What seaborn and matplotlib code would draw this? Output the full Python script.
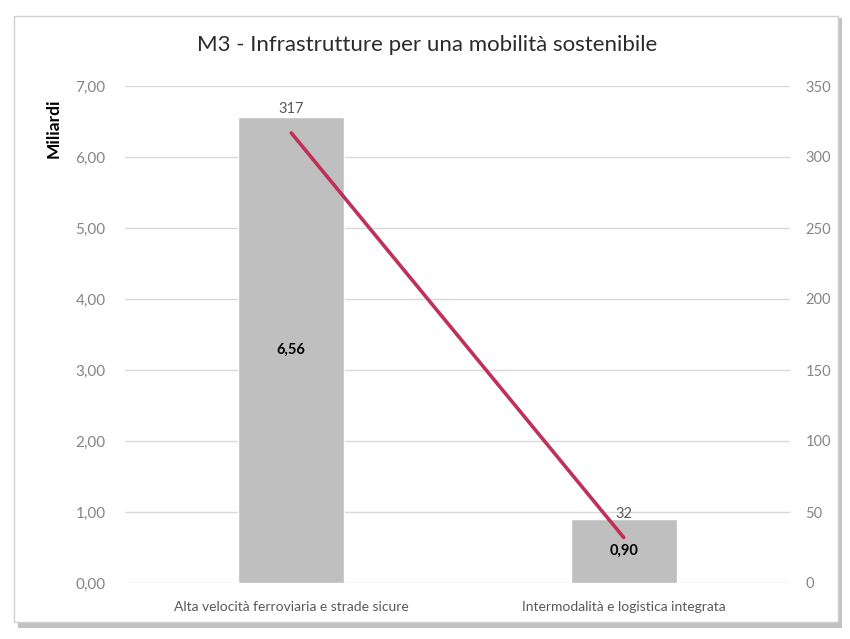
import matplotlib
matplotlib.use("Agg")
import matplotlib.pyplot as plt
import seaborn as sns
import pandas as pd
from matplotlib.patches import Rectangle

categories = ["Alta velocità ferroviaria e strade sicure", "Intermodalità e logistica integrata"]
miliardi = [6.56, 0.90]
counts = [317, 32]
left_ticks = [0, 1, 2, 3, 4, 5, 6, 7]
right_ticks = [0, 50, 100, 150, 200, 250, 300, 350]

sns.set_theme(style="white")
plt.rcParams['font.family'] = ['Lato', 'DejaVu Sans']

df = pd.DataFrame({"cat": categories, "val": miliardi, "cnt": counts})

fig = plt.figure(figsize=(8.5, 6.39), dpi=100)
fig.patch.set_facecolor("white")

# frame with shadow
shadow = Rectangle((18 / 850, 1 - 628 / 639), 824 / 850, 610 / 639, transform=fig.transFigure,
                   facecolor="#9a9a9a", edgecolor="none", zorder=-3, alpha=0.6)
frame = Rectangle((14 / 850, 1 - 622 / 639), 824 / 850, 606 / 639, transform=fig.transFigure,
                  facecolor="white", edgecolor="#d0d0d0", linewidth=1.0, zorder=-2)
fig.patches.extend([shadow, frame])

ax = fig.add_axes([125 / 850, 1 - 583 / 639, 665 / 850, 497 / 639])
ax.set_facecolor("none")
sns.barplot(data=df, x="cat", y="val", ax=ax, color="#BFBFBF", width=0.32, saturation=1, zorder=2)
ax.set_ylim(0, 7)
ax.set_xlim(-0.5, 1.5)
ax.set_yticks(left_ticks)
ax.set_yticklabels([f"{t:.2f}".replace(".", ",") for t in left_ticks], color="#858585", fontsize=11)
ax.grid(axis="y", color="#D9D9D9", linewidth=1, zorder=0)
ax.set_axisbelow(True)
for s in ax.spines.values():
    s.set_visible(False)
ax.tick_params(axis="both", length=0)
ax.tick_params(axis="y", pad=14)
ax.tick_params(axis="x", pad=13)
ax.set_xticks(range(len(categories)))
ax.set_xticklabels(categories, color="#595959", fontsize=10)
ax.set_xlabel("")
ax.set_ylabel("Miliardi", fontsize=12.5, fontweight="bold", color="black")
ax.yaxis.set_label_coords(-0.095, 0.915)

for i, v in enumerate(miliardi):
    ax.text(i, v / 2, f"{v:.2f}".replace(".", ","), ha="center", va="center",
            fontsize=10.5, fontweight="bold", color="black", zorder=5)

ax2 = ax.twinx()
sns.lineplot(data=df, x="cat", y="cnt", ax=ax2, color="#BE3259", linewidth=2.6, zorder=4)
ax2.set_ylim(0, 350)
ax2.set_xlim(-0.5, 1.5)
ax2.set_yticks(right_ticks)
ax2.set_yticklabels([str(t) for t in right_ticks], color="#858585", fontsize=10.5)
ax2.tick_params(axis="y", length=0, pad=11)
ax2.set_ylabel("")
for s in ax2.spines.values():
    s.set_visible(False)
ax2.grid(False)
for i, c in enumerate(counts):
    ax2.text(i, c + 12, str(c), ha="center", va="bottom", fontsize=10.5, color="#595959", zorder=6)

fig.text(0.503, 1 - 45 / 639, "M3 - Infrastrutture per una mobilità sostenibile", ha="center", va="center",
         fontsize=16, color="#2b2b2b")

fig.savefig("out.png", dpi=100)
